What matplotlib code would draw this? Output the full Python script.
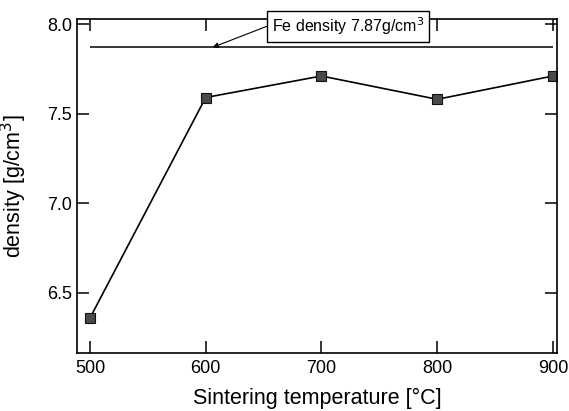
import matplotlib
matplotlib.use("Agg")
import matplotlib.pyplot as plt

temps = [500, 600, 700, 800, 900]
density = [6.36, 7.59, 7.71, 7.58, 7.71]
fe_density = 7.87
x_ticks = [500, 600, 700, 800, 900]
y_ticks = [6.5, 7.0, 7.5, 8.0]

plt.rcParams['font.family'] = ['Liberation Sans', 'DejaVu Sans']

fig = plt.figure(figsize=(5.69, 4.11), dpi=100)
ax = fig.add_axes([0.1353, 0.1411, 0.8436, 0.8127])

ax.hlines(fe_density, temps[0], temps[-1], color='black', lw=1.1)
ax.plot(temps, density, color='black', lw=1.2, marker='s', markersize=7,
        markerfacecolor='#4a4a4a', markeredgecolor='#111111', markeredgewidth=0.8)

ax.annotate('Fe density 7.87g/cm$^3$', xy=(606, fe_density), xytext=(723, 7.986),
            ha='center', va='center', fontsize=11.5,
            bbox=dict(boxstyle='square,pad=0.3', fc='white', ec='black', lw=1.0),
            arrowprops=dict(arrowstyle='-|>', color='black', lw=0.8,
                            mutation_scale=8, relpos=(0, 0.6), shrinkA=0, shrinkB=0))

ax.set_xlim(488.8, 903.5)
ax.set_ylim(6.165, 8.028)
ax.set_xticks(x_ticks)
ax.set_yticks(y_ticks)
ax.set_yticklabels([f'{v:.1f}' for v in y_ticks])
ax.tick_params(direction='in', length=8.5, width=1.1, top=True, right=True,
               labelsize=13)
ax.tick_params(axis='x', pad=5)
ax.tick_params(axis='y', pad=3.6)
for s in ax.spines.values():
    s.set_linewidth(1.2)

ax.set_xlabel('Sintering temperature [°C]', fontsize=15.5)
ax.set_ylabel('density [g/cm$^3$]', fontsize=15.5)
ax.xaxis.set_label_coords(0.5, -0.105)
ax.yaxis.set_label_coords(-0.1, 0.5)

fig.savefig('out.png', dpi=100)
